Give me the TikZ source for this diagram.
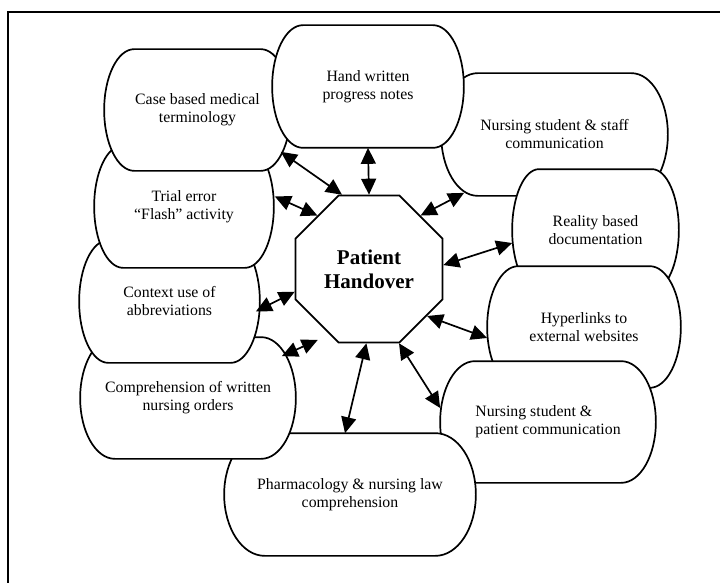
\documentclass[tikz,border=0pt]{standalone}
\usepackage{fontspec}
\setmainfont{Liberation Serif}
\usetikzlibrary{arrows.meta,shapes.geometric}

\makeatletter
% box with flat top and bottom and half-ellipse ends
\pgfdeclareshape{capsule}{
  \inheritsavedanchors[from=rectangle]
  \inheritanchorborder[from=rectangle]
  \inheritanchor[from=rectangle]{center}
  \inheritanchor[from=rectangle]{north}
  \inheritanchor[from=rectangle]{south}
  \inheritanchor[from=rectangle]{east}
  \inheritanchor[from=rectangle]{west}
  \inheritanchor[from=rectangle]{north east}
  \inheritanchor[from=rectangle]{north west}
  \inheritanchor[from=rectangle]{south east}
  \inheritanchor[from=rectangle]{south west}
  \backgroundpath{
    \southwest \edef\capsule@xa{\the\pgf@x}\edef\capsule@ya{\the\pgf@y}
    \northeast \edef\capsule@xb{\the\pgf@x}\edef\capsule@yb{\the\pgf@y}
    \pgfmathsetmacro\capsule@rx{0.161*(\capsule@xb-\capsule@xa)}
    \pgfmathsetmacro\capsule@ry{0.5*(\capsule@yb-\capsule@ya)}
    \pgfmathsetmacro\capsule@l{\capsule@xa+\capsule@rx}
    \pgfmathsetmacro\capsule@r{\capsule@xb-\capsule@rx}
    \pgfpathmoveto{\pgfpoint{\capsule@l pt}{\capsule@yb}}
    \pgfpathlineto{\pgfpoint{\capsule@r pt}{\capsule@yb}}
    \pgfpatharc{90}{-90}{\capsule@rx pt and \capsule@ry pt}
    \pgfpathlineto{\pgfpoint{\capsule@l pt}{\capsule@ya}}
    \pgfpatharc{270}{90}{\capsule@rx pt and \capsule@ry pt}
    \pgfpathclose
  }
}
\makeatother

\begin{document}
\begin{tikzpicture}[
    x=1pt, y=-1pt,
    topic/.style={shape=capsule, draw, fill=white, line width=1.7pt, inner sep=0pt, align=center, font=\fontsize{15.8}{18}\selectfont},
    hub/.style={regular polygon, regular polygon sides=8, minimum size=159pt, draw, fill=white, line width=1.7pt, inner sep=0pt, align=center, font=\fontsize{21}{24}\selectfont\bfseries},
    link/.style={{Triangle[length=16pt,width=15pt]}-{Triangle[length=16pt,width=15pt]}, line width=1.7pt},
    pageframe/.style={line width=1.7pt}
]
\useasboundingbox (0,0) rectangle (720,583);

% Outer frame, runs off right and bottom
\draw[pageframe] (8,583) -- (8,12) -- (720,12);

% Topic boxes, back to front
\node[topic, minimum width=225pt, minimum height=121pt] (staff) at (554.5,134.5) {Nursing student \& staff\\communication};
\node[topic, minimum width=165pt, minimum height=120pt] (reality) at (595.5,230) {Reality based\\documentation};
\node[topic, minimum width=192pt, minimum height=120pt] (hyper) at (584,327) {Hyperlinks to\\external websites};
\node[topic, minimum width=214pt, minimum height=120pt, align=left] (patient) at (548,422) {Nursing student \&\\patient communication};
\node[topic, minimum width=250pt, minimum height=121pt] (pharma) at (350,494.5) {Pharmacology \& nursing law\\comprehension};
\node[topic, minimum width=214pt, minimum height=120pt] (compre) at (188,398) {Comprehension of written\\nursing orders};
\node[topic, minimum width=179pt, minimum height=121pt] (context) at (169.5,301.5) {Context use of\\abbreviations};
\node[topic, minimum width=178pt, minimum height=121pt] (trial) at (184,206.5) {Trial error\\``Flash'' activity};
\node[topic, minimum width=185pt, minimum height=120pt] (case) at (197.5,110) {Case based medical\\terminology};
\node[topic, minimum width=190pt, minimum height=121pt] (hand) at (368,86.5) {Hand written\\progress notes};

% Central hub
\node[hub] (hub) at (369,269) {Patient\\Handover};

% Links to hub
\draw[link] (hand.south) -- (hub.90);
\draw[link] ([shift={(-10,-19)}]case.south east) -- (hub.110);
\draw[link] ([shift={(1,-10)}]trial.east) -- (hub.134);
\draw[link] ([shift={(-4,10)}]context.east) -- (hub.197);
\draw[link, shorten >=13pt] ([shift={(-14,19)}]compre.north east) -- (hub.-121);
\draw[link] ([shift={(-5,0)}]pharma.north) -- (hub.-92);
\draw[link] ([shift={(0,-14)}]patient.west) -- (hub.-68);
\draw[link] ([shift={(0,11)}]hyper.west) -- (hub.-39);
\draw[link] ([shift={(0,13)}]reality.west) -- (hub.3);
\draw[link] ([shift={(23,-3)}]staff.south west) -- (hub.46);

\end{tikzpicture}
\end{document}
